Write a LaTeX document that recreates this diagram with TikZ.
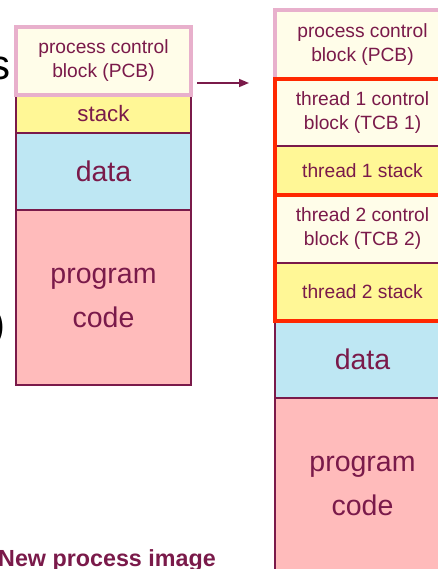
\documentclass[tikz,border=0pt]{standalone}
\usepackage{fontspec}
\setmainfont{Liberation Sans}
\usetikzlibrary{arrows.meta,fit}

\definecolor{ink}{RGB}{122,26,74}
\definecolor{pinkline}{RGB}{232,176,204}
\definecolor{pcbfill}{RGB}{255,253,233}
\definecolor{stackfill}{RGB}{255,247,150}
\definecolor{datafill}{RGB}{190,231,243}
\definecolor{codefill}{RGB}{255,187,187}
\definecolor{threadred}{RGB}{255,40,0}

\begin{document}
\begin{tikzpicture}[
  x=1pt, y=-1pt,
  blk/.style={
    rectangle, draw=ink,
    line width=1.6pt,
    minimum width=175pt,
    inner sep=0pt, outer sep=0pt,
    text=ink, align=center,
    font=\fontsize{19.2pt}{24pt}\selectfont
  },
  pcb/.style={blk, fill=pcbfill, draw=pinkline, line width=4pt},   % PCB
  tcb/.style={blk, fill=pcbfill},                                  % TCB
  stk/.style={blk, fill=stackfill},
  dat/.style={blk, fill=datafill, font=\fontsize{28.5pt}{44pt}\selectfont},
  prog/.style={blk, fill=codefill, font=\fontsize{28.5pt}{44pt}\selectfont},
  thr/.style={draw=threadred, line width=4.5pt, inner sep=0pt, outer sep=0pt},
  arrow/.style={draw=ink, line width=1.5pt, -{Triangle[length=10pt,width=8pt]}},
  cut/.style={font=\fontsize{42pt}{48pt}\selectfont, text=black, inner sep=0pt}
]
\useasboundingbox (0,0) rectangle (437,569);

% --- old process image (left) ---
\node[stk, minimum height=38pt, font=\fontsize{22.3pt}{26pt}\selectfont] (lstack) at (103.5,114) {stack};
\node[dat, minimum height=77pt]  (ldata) at (103.5,171.5) {data};
\node[prog, minimum height=175pt] (lcode) at (103.5,297.5) {program\\code};
\node[pcb, minimum height=68pt]  (lpcb) at (103.5,61) {process control\\block (PCB)};

% --- new process image (right) ---
\node[pcb, minimum height=68.5pt] (rpcb) at (362.5,44.75) {process control\\block (PCB)};
\node[tcb, minimum height=67pt]  (rtcb1) at (362.5,112.5) {thread 1 control\\block (TCB 1)};
\node[stk, minimum height=49pt]  (rstack1) at (362.5,170.5) {thread 1 stack};
\node[tcb, minimum height=68pt]  (rtcb2) at (362.5,229) {thread 2 control\\block (TCB 2)};
\node[stk, minimum height=58pt]  (rstack2) at (362.5,292) {thread 2 stack};
\node[dat, minimum height=77pt]  (rdata) at (362.5,359.5) {data};
\node[prog, minimum height=175pt] (rcode) at (362.5,485.5) {program\\code};

\node[thr, fit=(rtcb1)(rstack1)] (thread1) {};
\node[thr, fit=(rtcb2)(rstack2)] (thread2) {};

% --- arrow ---
\draw[arrow] ([shift={(6,22)}]lpcb.east) -- ([shift={(-26,-29.5)}]rtcb1.west);

% --- cut-off texts ---
\node[cut, anchor=base east] (cuts) at (11,80) {s};
\node[cut, anchor=base east] (cutp) at (5.5,338) {)};
\node[anchor=base west, inner sep=0pt, text=ink, font=\fontsize{23.3pt}{28pt}\selectfont\bfseries] (title) at (-2,566) {New process image};

\end{tikzpicture}
\end{document}
